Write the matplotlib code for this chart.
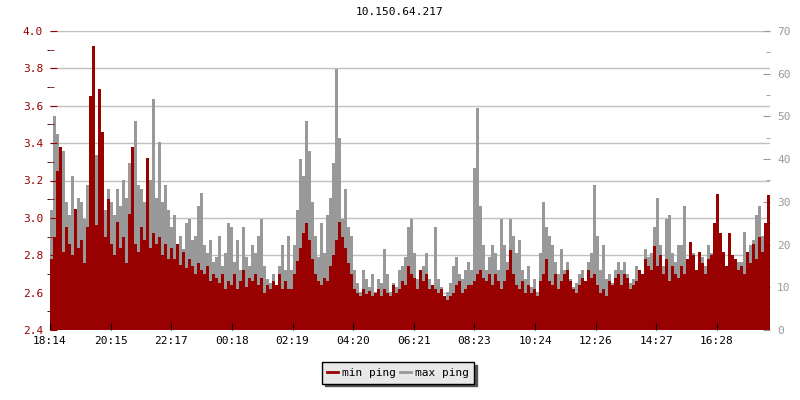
import numpy as np
import matplotlib
matplotlib.use("Agg")
import matplotlib.pyplot as plt
from matplotlib.lines import Line2D
from matplotlib.ticker import MultipleLocator, FormatStrFormatter

# one sample every 6 minutes, starting 18:14
min_ping = [
    2.78, 2.90, 3.25, 3.38, 2.82, 2.95, 2.86, 2.80, 3.05, 2.84,
    2.88, 2.76, 2.95, 3.65, 3.92, 2.96, 3.69, 3.46, 2.90, 3.10,
    2.86, 2.80, 2.98, 2.84, 2.90, 2.76, 3.02, 3.38, 2.86, 2.82,
    2.95, 2.88, 3.32, 2.84, 2.92, 2.86, 2.90, 2.80, 2.86, 2.78,
    2.84, 2.78, 2.86, 2.75, 2.82, 2.73, 2.78, 2.74, 2.70, 2.76,
    2.72, 2.70, 2.74, 2.66, 2.70, 2.68, 2.65, 2.70, 2.62, 2.66,
    2.64, 2.70, 2.62, 2.66, 2.72, 2.63, 2.68, 2.66, 2.70, 2.64,
    2.68, 2.60, 2.64, 2.62, 2.66, 2.64, 2.70, 2.62, 2.66, 2.62,
    2.62, 2.70, 2.77, 2.84, 2.92, 2.97, 2.88, 2.78, 2.70, 2.66,
    2.64, 2.68, 2.66, 2.74, 2.80, 2.88, 2.98, 2.90, 2.84, 2.76,
    2.70, 2.62, 2.60, 2.58, 2.62, 2.59, 2.61, 2.58, 2.60, 2.62,
    2.58, 2.62, 2.60, 2.58, 2.64, 2.60, 2.62, 2.66, 2.64, 2.74,
    2.70, 2.68, 2.62, 2.72, 2.66, 2.70, 2.62, 2.64, 2.62, 2.60,
    2.62, 2.58, 2.56, 2.58, 2.60, 2.64, 2.66, 2.60, 2.62, 2.64,
    2.64, 2.66, 2.70, 2.72, 2.68, 2.66, 2.70, 2.64, 2.70, 2.66,
    2.62, 2.66, 2.72, 2.83, 2.70, 2.64, 2.62, 2.66, 2.60, 2.64,
    2.60, 2.62, 2.58, 2.66, 2.70, 2.78, 2.66, 2.64, 2.70, 2.62,
    2.66, 2.70, 2.72, 2.66, 2.62, 2.60, 2.64, 2.68, 2.66, 2.72,
    2.68, 2.70, 2.64, 2.60, 2.62, 2.58, 2.66, 2.64, 2.68, 2.70,
    2.64, 2.70, 2.68, 2.62, 2.64, 2.66, 2.72, 2.70, 2.78, 2.74,
    2.72, 2.85, 2.74, 2.80, 2.70, 2.78, 2.66, 2.74, 2.70, 2.68,
    2.74, 2.70, 2.78, 2.87, 2.80, 2.72, 2.82, 2.76, 2.70, 2.78,
    2.80, 2.97, 3.13, 2.92, 2.82, 2.74, 2.92, 2.80, 2.78, 2.72,
    2.74, 2.70, 2.82, 2.76, 2.86, 2.78, 2.90, 2.82, 2.97, 3.12,
]
max_ping = [
    28, 50, 46, 33, 42, 30, 27, 36, 25, 31,
    30, 26, 34, 29, 32, 41, 36, 30, 28, 33,
    30, 27, 33, 29, 35, 31, 39, 30, 49, 34,
    33, 30, 36, 35, 54, 31, 44, 30, 34, 28,
    24, 27, 20, 22, 19, 25, 26, 21, 22, 29,
    32, 20, 18, 21, 16, 17, 22, 15, 18, 25,
    24, 16, 21, 14, 24, 17, 15, 20, 18, 22,
    26, 15, 12, 11, 13, 10, 15, 20, 14, 22,
    14, 20, 28, 40, 36, 49, 42, 30, 22, 17,
    25, 18, 27, 31, 39, 61, 45, 26, 33, 24,
    22, 14, 11, 9, 14, 12, 10, 13, 9, 12,
    11, 19, 13, 9, 11, 10, 14, 15, 17, 24,
    26, 18, 12, 11, 15, 18, 12, 10, 24, 12,
    10, 8, 9, 11, 15, 17, 13, 12, 14, 16,
    14, 38, 52, 29, 20, 14, 17, 20, 18, 14,
    26, 20, 16, 26, 22, 18, 21, 14, 12, 15,
    10, 12, 9, 18, 30, 24, 22, 20, 16, 13,
    19, 14, 16, 12, 10, 11, 13, 14, 10, 16,
    18, 34, 22, 14, 20, 12, 13, 11, 14, 16,
    14, 16, 13, 11, 12, 15, 14, 13, 19, 17,
    18, 24, 31, 20, 15, 26, 27, 18, 16, 20,
    20, 29, 16, 20, 18, 14, 16, 17, 15, 20,
    18, 22, 24, 20, 16, 14, 18, 15, 13, 16,
    16, 23, 18, 20, 21, 27, 29, 22, 24, 25,
]
tick_labels = ["18:14", "20:15", "22:17", "00:18", "02:19", "04:20",
               "06:21", "08:23", "10:24", "12:26", "14:27", "16:28"]

RED = "#990000"
GREY = "#999999"
plt.rcParams["font.family"] = "DejaVu Sans Mono"
plt.rcParams["font.size"] = 8

step = 6
t = np.arange(len(min_ping)) * step
t_edge = np.append(t, t[-1] + step)
red = np.append(min_ping, min_ping[-1])
grey = np.append(max_ping, max_ping[-1])

fig = plt.figure(figsize=(8, 4), dpi=100)
rect = [0.0625, 0.175, 0.9, 0.7475]

# background axes only for the grid, so both series sit on top of it
bg = fig.add_axes(rect)
ax2 = fig.add_axes(rect, sharex=bg, frameon=False)
ax = fig.add_axes(rect, sharex=bg, sharey=bg, frameon=False)
bg.set_zorder(0)
ax2.set_zorder(1)
ax.set_zorder(2)
ax.patch.set_visible(False)
ax2.patch.set_visible(False)

ax2.fill_between(t_edge, grey, 0, step="post", color=GREY, linewidth=0)
ax.fill_between(t_edge, red, 2.4, step="post", color=RED, linewidth=0)

ax.set_xlim(0, 1440)
ax.set_ylim(2.4, 4.0)
ax2.set_ylim(0, 70)
ax.set_xticks(np.arange(12) * 1334 / 11)
ax.set_xticklabels(tick_labels)
ax.yaxis.set_major_locator(MultipleLocator(0.2))
ax.yaxis.set_minor_locator(MultipleLocator(0.1))
ax.yaxis.set_major_formatter(FormatStrFormatter("%.1f"))

bg.grid(axis="y", color="#c0c0c0", linewidth=1)
bg.grid(axis="x", visible=False)
bg.tick_params(left=False, labelleft=False, bottom=False, labelbottom=False)
for s in bg.spines.values():
    s.set_visible(False)

# left axis (min ping)
ax.spines["left"].set_visible(True)
ax.spines["left"].set_color(RED)
ax.spines["bottom"].set_visible(True)
ax.spines["bottom"].set_color("black")
ax.tick_params(axis="y", which="major", direction="in", length=5, color=RED,
               labelcolor=RED, pad=5)
ax.tick_params(axis="y", which="minor", direction="in", length=3, color=RED)
ax.tick_params(axis="x", direction="in", length=5, color="black", pad=4)

# right axis (max ping)
ax2.yaxis.tick_right()
ax2.spines["right"].set_visible(True)
ax2.spines["right"].set_color(GREY)
ax2.yaxis.set_major_locator(MultipleLocator(10))
ax2.yaxis.set_minor_locator(MultipleLocator(5))
ax2.tick_params(axis="y", which="major", direction="in", length=5, color=GREY,
                labelcolor=GREY, pad=5)
ax2.tick_params(axis="y", which="minor", direction="in", length=3, color=GREY)
ax2.tick_params(axis="x", bottom=False, labelbottom=False)

fig.text(0.5, 0.97, "10.150.64.217", ha="center", va="center", fontsize=8)

handles = [Line2D([], [], color=RED, linewidth=2),
           Line2D([], [], color=GREY, linewidth=2)]
leg = fig.legend(handles, ["min ping", "max ping"], loc="center",
                 bbox_to_anchor=(0.4975, 0.0675), ncol=2, fancybox=False,
                 shadow={"color": "#555555", "alpha": 1},
                 handlelength=1.0, handletextpad=0.3, columnspacing=0.4,
                 borderpad=0.5, framealpha=1)
leg.get_frame().set_edgecolor("black")
leg.get_frame().set_facecolor("#e8e8e8")
leg.get_frame().set_linewidth(1)

fig.savefig("out.png", dpi=100)
